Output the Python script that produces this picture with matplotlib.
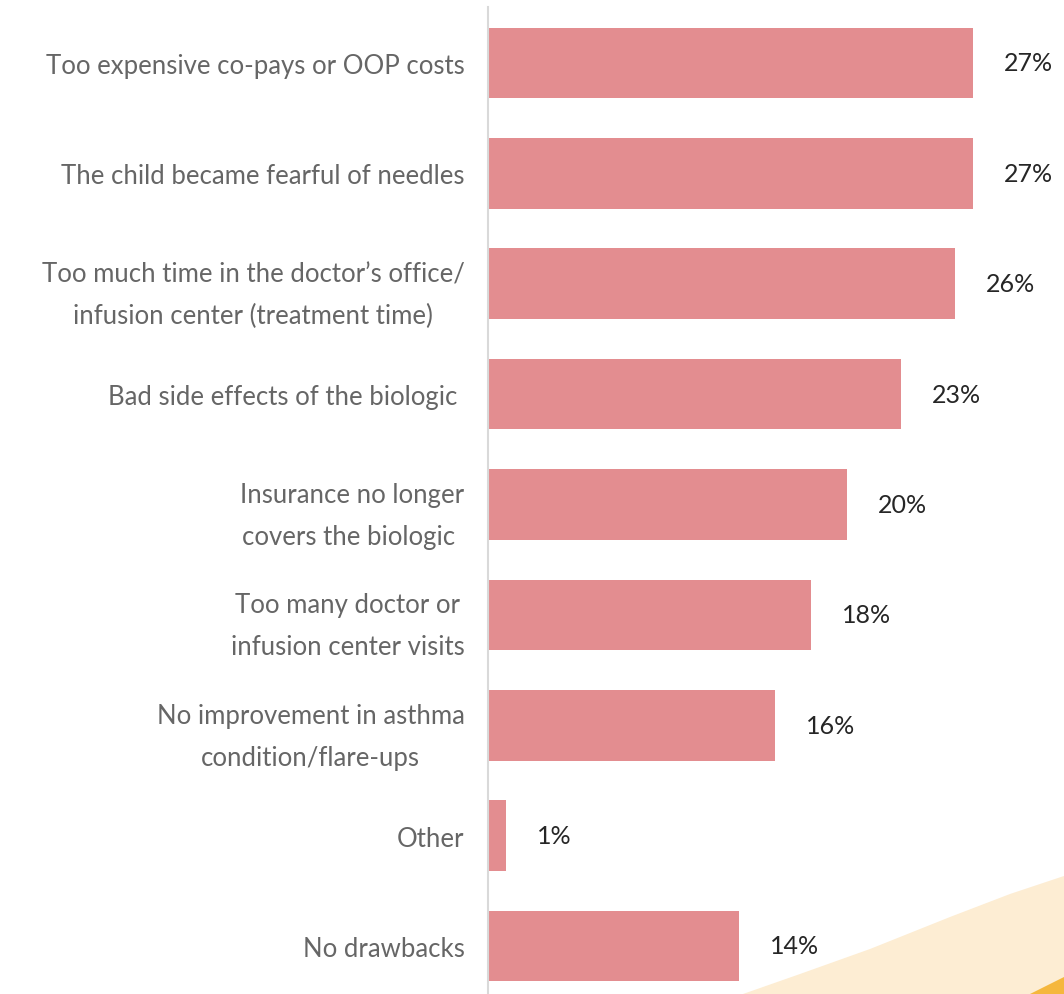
import numpy as np
import matplotlib.pyplot as plt
from matplotlib.patches import Polygon

categories = [
    "Too expensive co-pays or OOP costs",
    "The child became fearful of needles",
    "Too much time in the doctor\u2019s office/\ninfusion center (treatment time)",
    "Bad side effects of the biologic ",
    "Insurance no longer\ncovers the biologic ",
    "Too many doctor or\ninfusion center visits",
    "No improvement in asthma\ncondition/flare-ups",
    "Other",
    "No drawbacks",
]
values = [27, 27, 26, 23, 20, 18, 16, 1, 14]

bar_color = "#e38d90"
label_color = "#666666"

fig = plt.figure(figsize=(10.64, 9.95), dpi=100)
W, H = 1064, 995

# decorative swoosh in the bottom right corner
swoosh = [(743, 995), (800, 975), (870, 950), (950, 918), (1010, 895), (1064, 877), (1064, 995)]
fig.patches.append(Polygon([(x / W, 1 - y / H) for x, y in swoosh], closed=True, transform=fig.transFigure,
                           facecolor="#fdedd3", edgecolor="none", zorder=0))
corner = [(1030, 995), (1064, 978), (1064, 995)]
fig.patches.append(Polygon([(x / W, 1 - y / H) for x, y in corner], closed=True, transform=fig.transFigure,
                           facecolor="#f5b73d", edgecolor="none", zorder=0))

ax = fig.add_axes([488 / W, 0, (W - 488) / W, 987 / H])
ax.patch.set_alpha(0)

y = np.arange(len(values))
ax.barh(y, values, height=0.64, color=bar_color)
ax.set_xlim(0, (W - 488) / 17.96)
ax.set_ylim(8.435, -0.507)

for yi, v in zip(y, values):
    ax.annotate(f"{v}%", (v, yi), xytext=(22, 0), textcoords="offset points",
                va="center", ha="left", fontsize=18, color="#262626", family="Lato")

ax.set_yticks(y)
ax.set_yticklabels(categories, fontsize=18.5, color=label_color, family="Lato",
                   linespacing=1.85, multialignment="center")
ax.tick_params(axis="y", length=0, pad=17)
ax.set_xticks([])

for s in ["top", "right", "bottom"]:
    ax.spines[s].set_visible(False)
ax.spines["left"].set_color("#d9d9d9")
ax.spines["left"].set_linewidth(1.5)

fig.savefig("out.png", dpi=100)
